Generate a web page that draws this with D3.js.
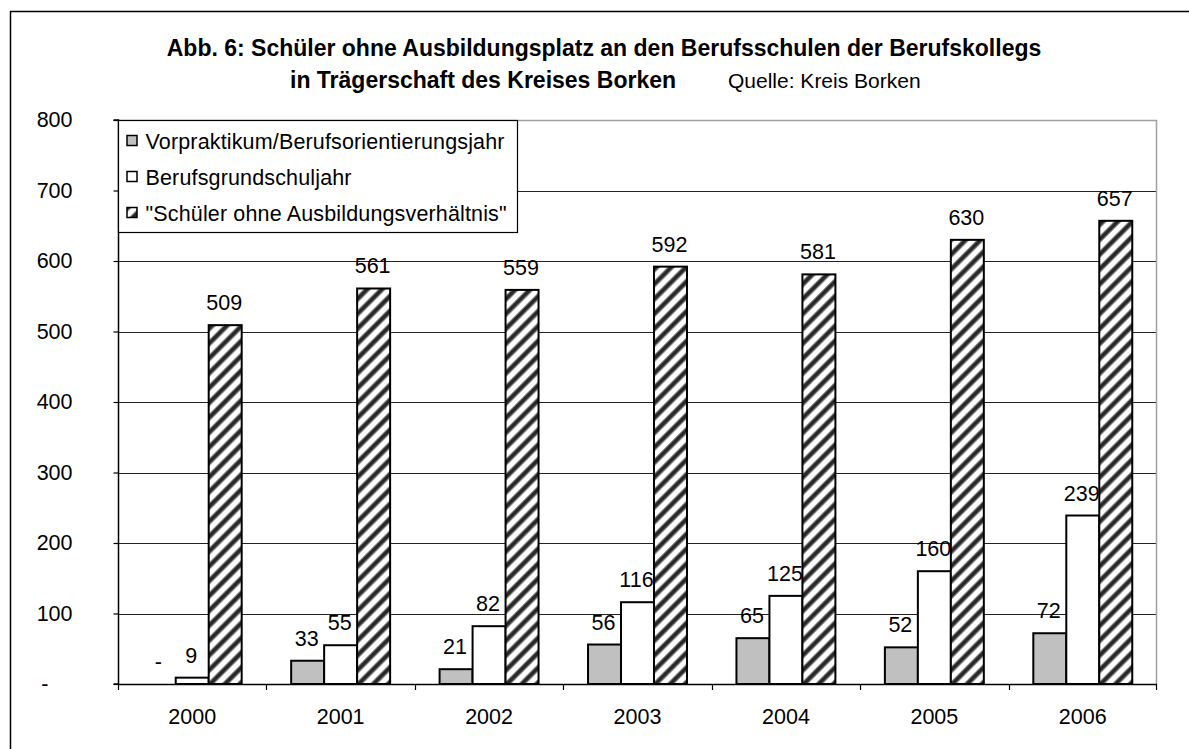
<!DOCTYPE html>
<html>
<head>
<meta charset="utf-8">
<script src="https://cdn.jsdelivr.net/npm/d3@7"></script>
<style>
  html, body { margin: 0; padding: 0; background: #fff; }
  svg { display: block; font-family: "Liberation Sans", Arial, sans-serif; }
</style>
</head>
<body>
<svg id="chart" width="1189" height="749"></svg>
<script>
// Data: pupils without apprenticeship at the vocational schools, Kreis Borken
const years = ["2000", "2001", "2002", "2003", "2004", "2005", "2006"];
const seriesNames = [
  "Vorpraktikum/Berufsorientierungsjahr",
  "Berufsgrundschuljahr",
  "\"Schüler ohne Ausbildungsverhältnis\""
];
const vorpraktikum = [0, 33, 21, 56, 65, 52, 72];
const berufsgrundschuljahr = [9, 55, 82, 116, 125, 160, 239];
const ohneAusbildung = [509, 561, 559, 592, 581, 630, 657];
const yTicks = [0, 100, 200, 300, 400, 500, 600, 700, 800];

const seriesValues = [vorpraktikum, berufsgrundschuljahr, ohneAusbildung];

const svg = d3.select("#chart");

// hatch pattern for the third series
const defs = svg.append("defs");
const pat = defs.append("pattern")
  .attr("id", "hatch")
  .attr("patternUnits", "userSpaceOnUse")
  .attr("width", 10.5).attr("height", 10)
  .attr("patternTransform", "rotate(45)");
pat.append("rect").attr("width", 10.5).attr("height", 10).attr("fill", "#fff");
pat.append("rect").attr("x", 0).attr("y", 0).attr("width", 5.6).attr("height", 10).attr("fill", "#8c8c8c");
pat.append("rect").attr("x", 1.1).attr("y", 0).attr("width", 3.4).attr("height", 10).attr("fill", "#262626");

const fills = ["#c0c0c0", "#ffffff", "url(#hatch)"];

// outer frame
svg.append("rect")
  .attr("x", 10.5).attr("y", 11.5)
  .attr("width", 1300).attr("height", 900)
  .attr("fill", "none").attr("stroke", "#000").attr("stroke-width", 1.5);

// plot area
const plot = { left: 118, right: 1157, top: 120, bottom: 684 };

const x = d3.scaleBand()
  .domain(years)
  .range([plot.left, plot.right])
  .paddingInner(0).paddingOuter(0);

const y = d3.scaleLinear()
  .domain([0, 800])
  .range([plot.bottom, plot.top]);

const groupWidth = x.bandwidth() * 3 / 4.5;
const xs = d3.scaleBand()
  .domain([0, 1, 2])
  .range([(x.bandwidth() - groupWidth) / 2, (x.bandwidth() + groupWidth) / 2])
  .padding(0);

// gridlines
svg.append("g")
  .selectAll("line")
  .data(yTicks.filter(d => d > 0 && d < 800))
  .join("line")
  .attr("x1", plot.left).attr("x2", plot.right)
  .attr("y1", d => Math.round(y(d)) + 0.5).attr("y2", d => Math.round(y(d)) + 0.5)
  .attr("stroke", "#222").attr("stroke-width", 1);

// plot area border (top and right)
svg.append("path")
  .attr("d", `M${plot.left},${plot.top + 0.5}H${plot.right - 0.5}V${plot.bottom}`)
  .attr("fill", "none").attr("stroke", "#a0a0a0").attr("stroke-width", 1.5);

// bars
const groups = svg.append("g")
  .selectAll("g")
  .data(years)
  .join("g")
  .attr("transform", d => `translate(${x(d)},0)`);

groups.selectAll("rect")
  .data((d, i) => seriesValues.map((vals, s) => ({ s, v: vals[i] })))
  .join("rect")
  .filter(d => d.v > 0)
  .attr("x", d => xs(d.s))
  .attr("y", d => y(d.v))
  .attr("width", xs.bandwidth())
  .attr("height", d => y(0) - y(d.v))
  .attr("fill", d => fills[d.s])
  .attr("stroke", "#000")
  .attr("stroke-width", 2);

// value labels
groups.selectAll("text")
  .data((d, i) => seriesValues.map((vals, s) => ({ s, v: vals[i] })))
  .join("text")
  .attr("x", d => xs(d.s) + xs.bandwidth() / 2 - 1)
  .attr("y", d => y(d.v) - 15)
  .attr("text-anchor", "middle")
  .attr("font-size", 21.5)
  .attr("fill", "#000")
  .text(d => d.v === 0 ? "-" : d.v);

// y axis
const yAxis = d3.axisLeft(y)
  .tickValues(yTicks)
  .tickSize(5)
  .tickPadding(41)
  .tickFormat(d => d === 0 ? "-" : d);
const gy = svg.append("g")
  .attr("transform", `translate(${plot.left + 0.5},0)`)
  .call(yAxis);
gy.select(".domain").attr("stroke", "#000").attr("stroke-width", 1.5)
  .attr("d", `M-5,${plot.top}H0V${plot.bottom}H-5`);
gy.selectAll(".tick line").attr("stroke", "#000").attr("stroke-width", 1.2);
gy.selectAll(".tick text")
  .attr("font-size", 21.5)
  .attr("font-family", "\"Liberation Sans\", Arial, sans-serif")
  .attr("fill", "#000")
  .attr("dx", d => d === 0 ? -24 : 0);

// x axis
const xAxis = d3.axisBottom(x).tickSize(0).tickPadding(24);
const gx = svg.append("g")
  .attr("transform", `translate(0,${plot.bottom + 0.5})`)
  .call(xAxis);
gx.select(".domain").attr("stroke", "#000").attr("stroke-width", 1.5)
  .attr("d", `M${plot.left},0H${plot.right}`);
gx.selectAll(".tick text")
  .attr("font-size", 21.5)
  .attr("font-family", "\"Liberation Sans\", Arial, sans-serif")
  .attr("fill", "#000");
// category separators
svg.append("g")
  .selectAll("line")
  .data(years.concat(["end"]))
  .join("line")
  .attr("x1", (d, i) => i < years.length ? Math.round(x(d)) + 0.5 : plot.right - 0.5)
  .attr("x2", (d, i) => i < years.length ? Math.round(x(d)) + 0.5 : plot.right - 0.5)
  .attr("y1", plot.bottom).attr("y2", plot.bottom + 6)
  .attr("stroke", "#000").attr("stroke-width", 1.2);

// legend
const legend = svg.append("g").attr("transform", `translate(${plot.left + 0.5},${plot.top + 0.5})`);
legend.append("rect")
  .attr("width", 399).attr("height", 112)
  .attr("fill", "#fff").attr("stroke", "#000").attr("stroke-width", 1.2);
const items = legend.selectAll("g.item")
  .data(seriesNames)
  .join("g")
  .attr("class", "item")
  .attr("transform", (d, i) => `translate(0,${20.5 + i * 36})`);
items.append("rect")
  .attr("x", 8.5).attr("y", -5.5)
  .attr("width", 10).attr("height", 10)
  .attr("fill", (d, i) => fills[i])
  .attr("stroke", "#000").attr("stroke-width", 1.5);
items.append("text")
  .attr("x", 27).attr("y", 7.5)
  .attr("font-size", 21.5)
  .attr("letter-spacing", 0.15)
  .attr("fill", "#000")
  .text(d => d);

// title
const title = svg.append("g");
title.append("text")
  .attr("x", 604).attr("y", 56)
  .attr("text-anchor", "middle")
  .attr("font-size", 23)
  .attr("font-weight", "bold")
  .text("Abb. 6: Schüler ohne Ausbildungsplatz an den Berufsschulen der Berufskollegs");
title.append("text")
  .attr("x", 290).attr("y", 88)
  .attr("font-size", 23)
  .attr("font-weight", "bold")
  .text("in Trägerschaft des Kreises Borken");
title.append("text")
  .attr("x", 728).attr("y", 88)
  .attr("font-size", 21)
  .text("Quelle: Kreis Borken");
</script>
</body>
</html>
